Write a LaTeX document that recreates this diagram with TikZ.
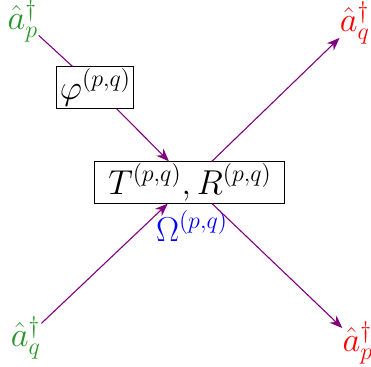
\documentclass[tikz,border=0pt]{standalone}
\usetikzlibrary{arrows.meta}
\definecolor{mygreen}{RGB}{40,150,40}
\definecolor{mypurple}{RGB}{128,0,128}
\begin{document}
\begin{tikzpicture}[x=0.5pt,y=-0.5pt,
  font=\fontsize{17}{20}\selectfont,
  lbl/.style={inner sep=0pt},
  box/.style={draw, line width=0.5pt, inner sep=1pt, minimum height=19.5pt},
  conn/.style={draw=mypurple, line width=0.55pt},
  arr/.style={conn, -{Stealth[length=6.5pt,width=5pt]}}]
\useasboundingbox (0,0) rectangle (371,366);
\node[lbl, text=mygreen] (ap) at (23,21) {$\hat a_p^\dagger$};
\node[lbl, text=red] (aqo) at (355,23) {$\hat a_q^\dagger$};
\node[lbl, text=mygreen] (aq) at (26,338) {$\hat a_q^\dagger$};
\node[lbl, text=red] (apo) at (358,343) {$\hat a_p^\dagger$};
\node[box, minimum width=38.5pt] (phi) at (95.5,87.5) {$\varphi^{(p,q)}$};
\node[box, minimum width=95pt] (T) at (190,182.5) {$T^{(p,q)},R^{(p,q)}$};
\node[text=blue, inner sep=0pt] (om) at (192,226) {$\Omega^{(p,q)}$};
\draw[conn] (ap) -- (phi);
\draw[arr] (phi) -- (T);
\draw[arr] (aq) -- (T);
\draw[arr] (T) -- (aqo);
\draw[arr] (T) -- (apo);
\end{tikzpicture}
\end{document}
